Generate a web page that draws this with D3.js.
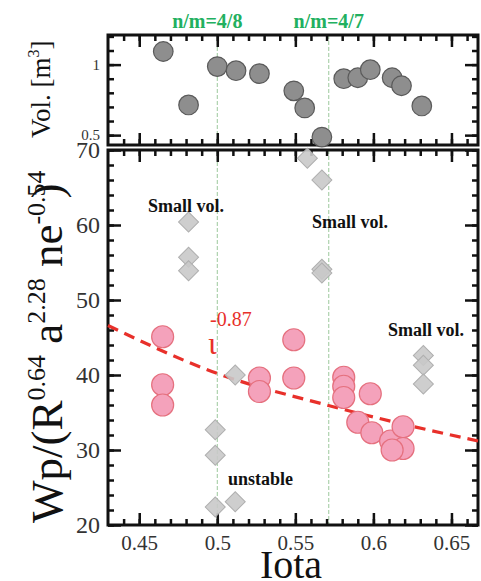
<!DOCTYPE html>
<html>
<head>
<meta charset="utf-8">
<script src="https://cdn.jsdelivr.net/npm/d3@7"></script>
<style>
  body { margin: 0; background: #fff; }
  svg { display: block; font-family: "Liberation Serif", "Times New Roman", serif; }
</style>
</head>
<body>
<svg width="481" height="581"></svg>
<script>
// volume panel (top)
const volIota = [0.4654, 0.4816, 0.500, 0.512, 0.527, 0.549, 0.556, 0.567, 0.581, 0.590, 0.598, 0.612, 0.618, 0.631];
const volValue = [1.093, 0.714, 0.986, 0.957, 0.936, 0.814, 0.693, 0.486, 0.900, 0.907, 0.964, 0.907, 0.850, 0.707];

// normalised Wp, stable shots (pink)
const stableIota = [0.465, 0.465, 0.465, 0.527, 0.527, 0.549, 0.549, 0.581, 0.581, 0.581, 0.598, 0.590, 0.599, 0.611, 0.619, 0.619, 0.612];
const stableWp = [45.1, 38.7, 36.0, 39.6, 37.8, 44.7, 39.6, 39.7, 38.5, 37.0, 37.5, 33.7, 32.3, 31.2, 33.1, 30.2, 30.0];

// excluded shots (grey diamonds)
const excludedIota = [0.4816, 0.4816, 0.4816, 0.4987, 0.4987, 0.4987, 0.5115, 0.5115, 0.5577, 0.567, 0.567, 0.567, 0.632, 0.632, 0.632];
const excludedWp = [60.4, 55.7, 53.9, 32.7, 29.3, 22.4, 40.0, 23.1, 68.9, 66.0, 54.1, 53.6, 42.6, 41.3, 38.8];

// fit line
const fitIota = [0.43, 0.50, 0.57, 0.60, 0.667];
const fitWp = [46.6, 40.2, 36.0, 34.4, 31.2];

// rational surfaces
const rationalIota = [0.5, 0.5714];
const rationalLabels = ["n/m=4/8", "n/m=4/7"];

const xMajor = [0.45, 0.5, 0.55, 0.6, 0.65];
const xMinor = d3.range(44, 67).map(d => d / 100);
const wpMajor = [20, 30, 40, 50, 60, 70];
const wpMinor = d3.range(20, 71, 2);
const volMajor = [0.5, 1];
const volMinor = d3.range(5, 13).map(d => d / 10);

const svg = d3.select('svg');

const x = d3.scaleLinear().domain([0.43, 0.667]).range([108, 478]);
const yTop = d3.scaleLinear().domain([0.43, 1.21]).range([145, 35]);
const yLow = d3.scaleLinear().domain([20, 70]).range([525, 150]);

let drawFrame = (y, major, minor, fmt, labelSize) => {
    const [y0, y1] = y.range();
    const left = x.range()[0], right = x.range()[1];
    const h = y0 - y1, w = right - left;

    [[d3.axisBottom(x), y0], [d3.axisTop(x), y1]].forEach(([axis, pos]) => {
        svg.append('g').attr('class', 'minor')
            .attr('transform', 'translate(0,' + pos + ')')
            .call(axis.tickValues(xMinor).tickSize(-6).tickFormat(''));
        svg.append('g').attr('class', 'major')
            .attr('transform', 'translate(0,' + pos + ')')
            .call(axis.tickValues(xMajor).tickSize(-12).tickFormat(''));
    });

    [[d3.axisLeft(y), left], [d3.axisRight(y), right]].forEach(([axis, pos]) => {
        svg.append('g').attr('class', 'minor')
            .attr('transform', 'translate(' + pos + ',0)')
            .call(axis.tickValues(minor).tickSize(-6).tickFormat(''));
        svg.append('g').attr('class', 'major')
            .attr('transform', 'translate(' + pos + ',0)')
            .call(axis.tickValues(major).tickSize(-13).tickFormat(''));
    });

    // labelled left axis
    svg.append('g').attr('class', 'lbl')
        .attr('transform', 'translate(' + left + ',0)')
        .call(d3.axisLeft(y).tickValues(major).tickSize(0).tickPadding(8).tickFormat(fmt))
        .call(g => g.selectAll('text').style('font-size', labelSize + 'px'));

    svg.append('rect')
        .attr('x', left).attr('y', y1)
        .attr('width', w).attr('height', h)
        .attr('fill', 'none').attr('stroke', '#111').attr('stroke-width', 3);
};

// rational surface lines
rationalIota.forEach(v => {
    [yTop, yLow].forEach(y => {
        svg.append('line')
            .attr('x1', x(v)).attr('x2', x(v))
            .attr('y1', y.range()[1]).attr('y2', y.range()[0])
            .attr('stroke', '#9cc89c').attr('stroke-width', 1).attr('stroke-dasharray', '4,2');
    });
});

svg.selectAll('.rat-label')
    .data(rationalLabels)
    .enter().append('text')
    .attr('class', 'rat-label')
    .attr('x', (d, i) => x(rationalIota[i]) - (i === 0 ? 10 : 0))
    .attr('y', 28)
    .attr('text-anchor', 'middle')
    .style('font-size', '20px').style('font-weight', 'bold')
    .style('fill', '#22b060')
    .text(d => d);

drawFrame(yTop, volMajor, volMinor, d => d === 1 ? '1' : '0.5', 15);
drawFrame(yLow, wpMajor, wpMinor, d3.format('d'), 24);

// x tick labels
svg.append('g').attr('class', 'lbl')
    .attr('transform', 'translate(0,' + yLow.range()[0] + ')')
    .call(d3.axisBottom(x).tickValues(xMajor).tickSize(0).tickPadding(10).tickFormat(d => d3.format('.2~f')(d)))
    .call(g => g.selectAll('text').style('font-size', '21px'));

svg.selectAll('.lbl .domain, .major .domain, .minor .domain').remove();
svg.selectAll('.major line, .minor line').attr('stroke', '#111').attr('stroke-width', 2.5);
svg.selectAll('.lbl text').attr('fill', '#333').style('font-family', '"Liberation Serif", serif');

// volume circles
svg.append('g').selectAll('circle')
    .data(volIota)
    .enter().append('circle')
    .attr('cx', d => x(d))
    .attr('cy', (d, i) => yTop(volValue[i]))
    .attr('r', 9.8)
    .style('fill', '#8e8e8e')
    .style('stroke', '#5a5a5a')
    .style('stroke-width', 1.2);

// fit line
const fitLine = d3.line()
    .x(d => x(d[0]))
    .y(d => yLow(d[1]))
    .curve(d3.curveMonotoneX);
svg.append('path')
    .datum(fitIota.map((d, i) => [d, fitWp[i]]))
    .attr('d', fitLine)
    .attr('fill', 'none')
    .attr('stroke', '#e8302a')
    .attr('stroke-width', 3.2)
    .attr('stroke-dasharray', '11,7');

// excluded diamonds
svg.append('g').selectAll('path')
    .data(excludedIota)
    .enter().append('path')
    .attr('d', d3.symbol(d3.symbolSquare, 200))
    .attr('transform', (d, i) => 'translate(' + x(d) + ',' + yLow(excludedWp[i]) + ') rotate(45)')
    .style('fill', '#c9c9c9')
    .style('fill-opacity', 0.9)
    .style('stroke', '#afafaf')
    .style('stroke-width', 1);

// stable circles
svg.append('g').selectAll('circle')
    .data(stableIota)
    .enter().append('circle')
    .attr('cx', d => x(d))
    .attr('cy', (d, i) => yLow(stableWp[i]))
    .attr('r', 11)
    .style('fill', '#f4a2bb')
    .style('stroke', '#e5707e')
    .style('stroke-width', 1.2);

// annotations
const notes = [
    {t: 'Small vol.', x: 148, y: 212},
    {t: 'Small vol.', x: 312, y: 228},
    {t: 'Small vol.', x: 388, y: 336},
    {t: 'unstable', x: 228, y: 485}
];
svg.selectAll('.note')
    .data(notes)
    .enter().append('text')
    .attr('class', 'note')
    .attr('x', d => d.x).attr('y', d => d.y)
    .style('font-size', '18px').style('font-weight', 'bold')
    .style('fill', '#111')
    .text(d => d.t);

svg.append('text')
    .attr('x', 208).attr('y', 354)
    .style('font-size', '32px').style('fill', '#e8302a')
    .text('ι');
svg.append('text')
    .attr('x', 210).attr('y', 326)
    .style('font-size', '20px').style('fill', '#e8302a')
    .text('-0.87');

// axis titles
svg.append('text')
    .attr('x', 291).attr('y', 578)
    .attr('text-anchor', 'middle')
    .style('font-size', '40px').style('fill', '#111')
    .text('Iota');

const volTitle = svg.append('text')
    .attr('transform', 'translate(50,138) rotate(-90)')
    .style('font-size', '27px').style('fill', '#111');
volTitle.append('tspan').text('Vol. [m');
volTitle.append('tspan').attr('dy', -11).style('font-size', '16px').text('3');
volTitle.append('tspan').attr('dy', 11).text(']');

const wpTitle = svg.append('text')
    .attr('transform', 'translate(62,523) rotate(-90)')
    .style('font-size', '45px').style('fill', '#111');
wpTitle.append('tspan').text('Wp/(R');
wpTitle.append('tspan').attr('dy', -17).style('font-size', '26px').text('0.64');
wpTitle.append('tspan').attr('dy', 17).text(' a');
wpTitle.append('tspan').attr('dy', -17).style('font-size', '26px').text('2.28');
wpTitle.append('tspan').attr('dy', 17).text(' ne');
wpTitle.append('tspan').attr('dy', -17).style('font-size', '26px').text('-0.54');
wpTitle.append('tspan').attr('dy', 17).attr('dx', -28).text(')');
</script>
</body>
</html>
